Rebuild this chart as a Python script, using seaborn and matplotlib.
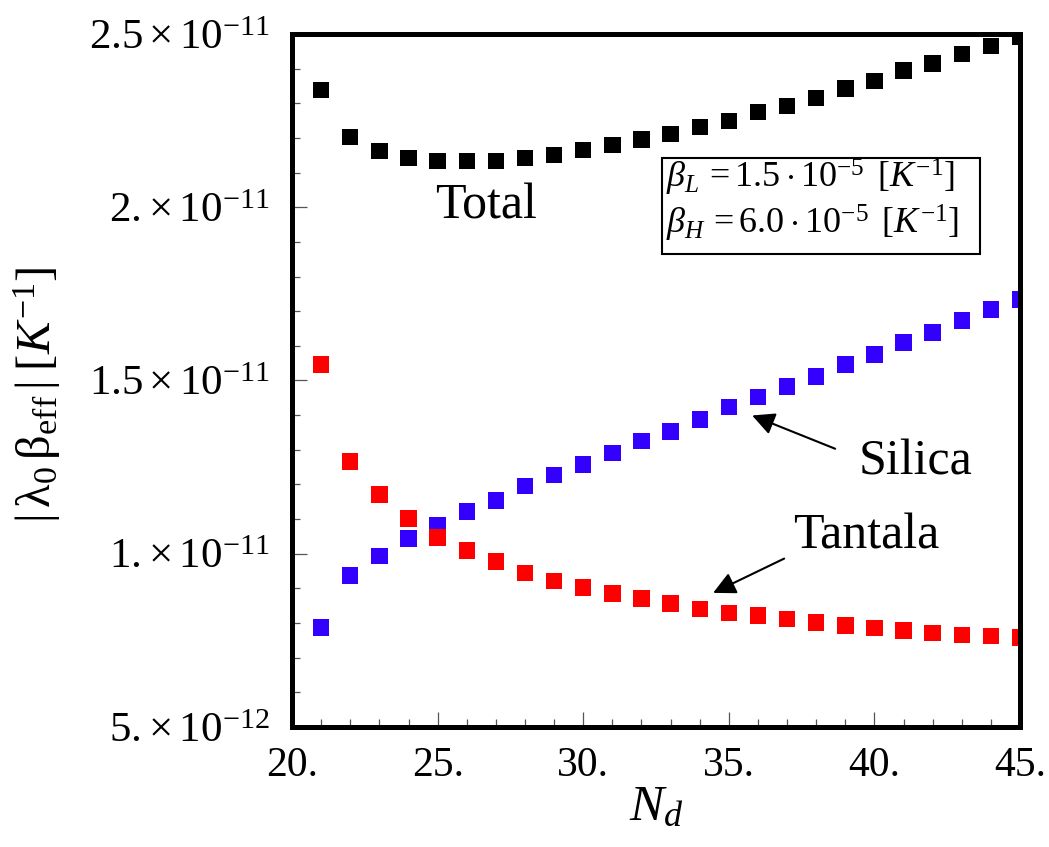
import numpy as np
import pandas as pd
import matplotlib
matplotlib.use("Agg")
import matplotlib.pyplot as plt
import seaborn as sns
from matplotlib.ticker import FixedLocator, FixedFormatter, MultipleLocator
from matplotlib.patches import Rectangle

# ---- data (values in units of 1e-12 K^-1) ----
nd = [21, 22, 23, 24, 25, 26, 27, 28, 29, 30, 31, 32, 33, 34, 35,
      36, 37, 38, 39, 40, 41, 42, 43, 44, 45]
total = [23.38, 22.02, 21.63, 21.42, 21.34, 21.34, 21.34, 21.42, 21.51, 21.65,
         21.79, 21.96, 22.12, 22.31, 22.49, 22.74, 22.92, 23.16, 23.43, 23.65,
         23.94, 24.15, 24.42, 24.65, 24.91]
silica = [7.87, 9.37, 9.94, 10.44, 10.81, 11.22, 11.53, 11.95, 12.28, 12.57,
          12.90, 13.25, 13.53, 13.87, 14.23, 14.52, 14.83, 15.12, 15.46, 15.75,
          16.10, 16.39, 16.73, 17.05, 17.34]
tantala = [15.46, 12.66, 11.71, 11.02, 10.47, 10.09, 9.77, 9.45, 9.22, 9.03,
           8.85, 8.71, 8.56, 8.41, 8.29, 8.22, 8.12, 8.01, 7.93, 7.86,
           7.78, 7.72, 7.66, 7.63, 7.58]
scale = 1e-12

ytick_vals = [5e-12, 1e-11, 1.5e-11, 2e-11, 2.5e-11]
ytick_labels = [r"$5.\!\times 10^{-12}$", r"$1.\!\times 10^{-11}$",
                r"$1.5\times 10^{-11}$", r"$2.\!\times 10^{-11}$",
                r"$2.5\times 10^{-11}$"]
xtick_vals = [20, 25, 30, 35, 40, 45]
xtick_labels = ["20.", "25.", "30.", "35.", "40.", "45."]

series_names = ["Total", "Silica", "Tantala"]
colors = {"Total": "#000000", "Silica": "#3300FF", "Tantala": "#FF0000"}

df = pd.DataFrame({
    "Nd": nd * 3,
    "value": np.concatenate([total, silica, tantala]) * scale,
    "series": np.repeat(series_names, len(nd)),
})

sns.set_theme(style="white")
plt.rcParams["font.family"] = ["Liberation Serif", "DejaVu Serif"]
plt.rcParams["mathtext.fontset"] = "custom"
plt.rcParams["mathtext.rm"] = "Liberation Serif"
plt.rcParams["mathtext.it"] = "Liberation Serif:italic"
plt.rcParams["mathtext.bf"] = "Liberation Serif:bold"
plt.rcParams["text.color"] = "black"
plt.rcParams["axes.labelcolor"] = "black"
plt.rcParams["xtick.color"] = "black"
plt.rcParams["ytick.color"] = "black"

fig = plt.figure(figsize=(10.49, 8.47), dpi=100)
ax = fig.add_axes([0.2784, 0.1417, 0.6940, 0.8182])

sns.scatterplot(data=df, x="Nd", y="value", hue="series", palette=colors,
                marker="s", s=140, linewidth=0, legend=False, ax=ax, zorder=3)

ax.set_xlim(20, 45)
ax.set_ylim(5e-12, 2.5e-11)

ax.xaxis.set_major_locator(FixedLocator(xtick_vals))
ax.xaxis.set_major_formatter(FixedFormatter(xtick_labels))
ax.xaxis.set_minor_locator(MultipleLocator(1))
ax.yaxis.set_major_locator(FixedLocator(ytick_vals))
ax.yaxis.set_major_formatter(FixedFormatter(ytick_labels))
ax.yaxis.set_minor_locator(MultipleLocator(1e-12))

ax.tick_params(axis="both", which="both", direction="in", color="#555555",
               labelcolor="black", bottom=True, left=True, top=False, right=False)
ax.tick_params(axis="x", which="major", length=11, width=0.9, labelsize=30, pad=14)
ax.tick_params(axis="y", which="major", length=11, width=0.9, labelsize=31, pad=16)
ax.tick_params(axis="both", which="minor", length=5.5, width=0.9)

for sp in ax.spines.values():
    sp.set_visible(True)
    sp.set_color("black")
    sp.set_linewidth(3.6)
    sp.set_zorder(5)

ax.set_xlabel(r"$N_d$", fontsize=37, labelpad=0)
ax.set_ylabel(r"$|\,\mathrm{\lambda}_0\,\mathrm{\beta}_{\mathrm{eff}}\,|\;[K^{-1}]$",
              fontsize=35)
ax.yaxis.set_label_coords(-0.314, 0.48)

# labels
ax.text(0.2665, 0.752, "Total", transform=ax.transAxes, fontsize=36,
        ha="center", va="center")
ax.text(0.8558, 0.3824, "Silica", transform=ax.transAxes, fontsize=36,
        ha="center", va="center")
ax.text(0.7885, 0.2756, "Tantala", transform=ax.transAxes, fontsize=36,
        ha="center", va="center")

arrow = dict(arrowstyle="-|>", color="black", lw=1.5, mutation_scale=34,
             shrinkA=0, shrinkB=0)
ax.annotate("", xy=(35.80, 13.99 * scale), xytext=(38.65, 13.03 * scale),
            arrowprops=arrow)
ax.annotate("", xy=(34.46, 8.87 * scale), xytext=(36.90, 9.86 * scale),
            arrowprops=arrow)

# parameter box
ax.add_patch(Rectangle((0.508, 0.6825), 0.437, 0.1385, transform=ax.transAxes,
                       fill=False, edgecolor="black", lw=1.5, zorder=4))
ax.text(0.514, 0.7935, r"$\beta_L\, = 1.5\cdot 10^{-5}\ \,[K^{-1}]$",
        transform=ax.transAxes, fontsize=26, ha="left", va="center")
ax.text(0.514, 0.7265, r"$\beta_H\, = 6.0\cdot 10^{-5}\ \,[K^{-1}]$",
        transform=ax.transAxes, fontsize=26, ha="left", va="center")

fig.savefig("out.png", dpi=100)
